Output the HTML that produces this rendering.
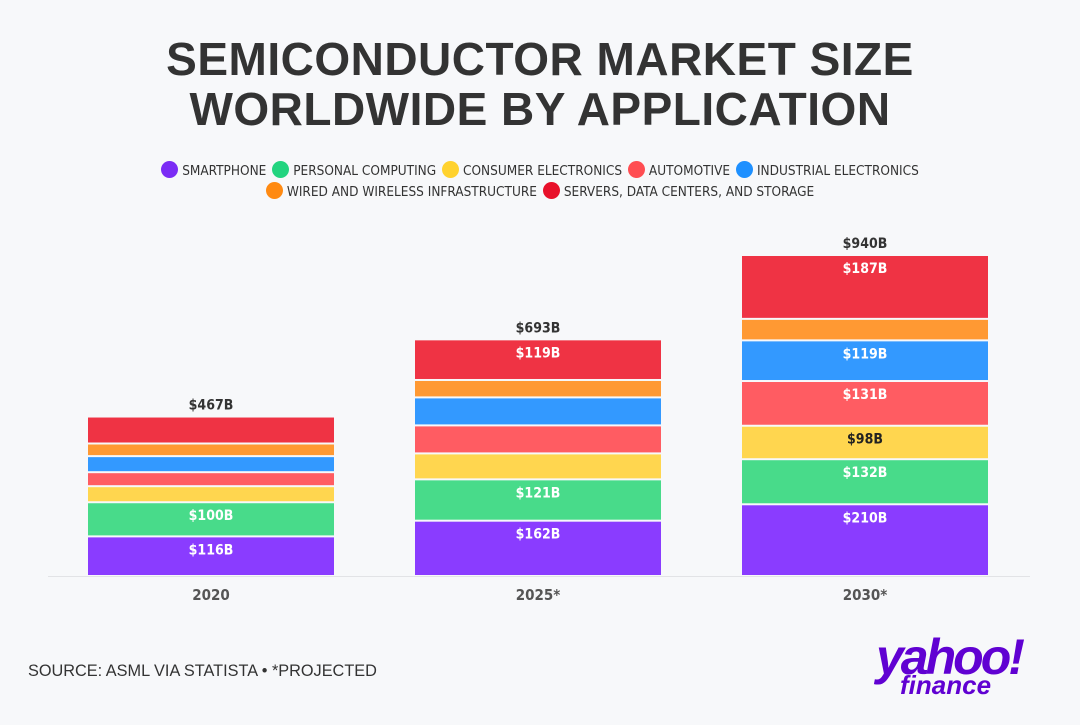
<!DOCTYPE html>
<html><head><meta charset="utf-8"><style>
body{margin:0;width:1080px;height:725px;background:#f7f8fa;font-family:"Liberation Sans",sans-serif;overflow:hidden;position:relative}
.title{position:absolute;top:34px;left:0;width:1080px;text-align:center;font-weight:900;font-size:46px;line-height:50px;color:#333;letter-spacing:0.5px}
.legend{position:absolute;top:161px;left:0;width:1080px;text-align:center;font-family:"DejaVu Sans Condensed","Liberation Sans Narrow",sans-serif;font-size:13.5px;color:#333;line-height:21px}
.li{display:inline-block;margin:0 1px}
.dot{display:inline-block;width:17px;height:17px;border-radius:50%;vertical-align:-3px;margin-right:4px}
.src{position:absolute;left:28px;top:662px;font-size:16.3px;color:#333}
.logo{position:absolute;left:876px;top:628px;font-size:50px;font-weight:900;color:#6001d2;font-style:italic;letter-spacing:-3px}
.logo2{position:absolute;left:900px;top:670px;font-size:26px;font-weight:900;color:#6001d2;font-style:italic}
</style></head><body>
<div class="title">SEMICONDUCTOR MARKET SIZE<br>WORLDWIDE BY APPLICATION</div>
<div class="legend">
<span class="li"><span class="dot" style="background:#7b2cf5"></span>SMARTPHONE</span>
<span class="li"><span class="dot" style="background:#22d47f"></span>PERSONAL COMPUTING</span>
<span class="li"><span class="dot" style="background:#ffd22e"></span>CONSUMER ELECTRONICS</span>
<span class="li"><span class="dot" style="background:#ff4d52"></span>AUTOMOTIVE</span>
<span class="li"><span class="dot" style="background:#1e90ff"></span>INDUSTRIAL ELECTRONICS</span><br>
<span class="li"><span class="dot" style="background:#ff8a12"></span>WIRED AND WIRELESS INFRASTRUCTURE</span>
<span class="li"><span class="dot" style="background:#e8102a"></span>SERVERS, DATA CENTERS, AND STORAGE</span>
</div>
<svg id="chart" width="1080" height="725" style="position:absolute;left:0;top:0"></svg>
<div class="src">SOURCE: ASML VIA STATISTA • *PROJECTED</div>
<div class="logo">yahoo!</div>
<div class="logo2">finance</div>
<script>
const categories=["2020","2025*","2030*"];
const totals=["$467B","$693B","$940B"];
const smartphone=[116,162,210];
const personal=[100,121,132];
const consumer=[47,76,98];
const automotive=[41,82,131];
const industrial=[47,82,119];
const wired=[37,51,63];
const servers=[79,119,187];
const seriesList=[smartphone,personal,consumer,automotive,industrial,wired,servers];
const colors=["#8a3cff","#48db8a","#ffd64f","#ff5c62","#3399ff","#ff9933","#ef3344"];
const labelShow=[[1,1,1],[1,1,1],[0,0,1],[0,0,1],[0,0,1],[0,0,0],[0,1,1]];
const svg=document.getElementById('chart');const NS="http://www.w3.org/2000/svg";
const base=576,scale=321/940,bw=246;
function y(v){return base-v*scale;}
function x(i){return 88+i*327;}
function mk(t,a){const e=document.createElementNS(NS,t);for(const k in a)e.setAttribute(k,a[k]);svg.appendChild(e);return e;}
const ax=mk('line',{x1:48,x2:1030,y1:576.5,y2:576.5,stroke:'#e2e3e6','stroke-width':1});


categories.forEach((c,i)=>{
 let cum=0;
 seriesList.forEach((s,j)=>{
  const v=s[i];const y0=y(cum),y1=y(cum+v);
  const r=mk('rect',{x:x(i),y:y1+1,width:bw,height:Math.max(0,y0-y1-2),fill:colors[j]});
  
  
  if(labelShow[j][i]){
   const t=mk('text',{x:x(i)+bw/2,y:y1+18,'text-anchor':'middle','font-size':14,'font-weight':'bold','font-family':'DejaVu Sans Condensed,Liberation Sans Narrow,sans-serif',fill:j==2?'#222':'#fff'});
   t.textContent='$'+v+'B';
   
   
  }
  cum+=v;
 });
 const tt=mk('text',{x:x(i)+bw/2,y:y(cum)-7,'text-anchor':'middle','font-size':14,'font-weight':'bold','font-family':'DejaVu Sans Condensed,Liberation Sans Narrow,sans-serif',fill:'#333'});
 tt.textContent=totals[i];
 
 
 const cl=mk('text',{x:x(i)+bw/2,y:600,'text-anchor':'middle','font-size':15,'font-weight':'bold','font-family':'DejaVu Sans Condensed,Liberation Sans Narrow,sans-serif',fill:'#555'});
 cl.textContent=c;
 
 
});
</script>
</body></html>
